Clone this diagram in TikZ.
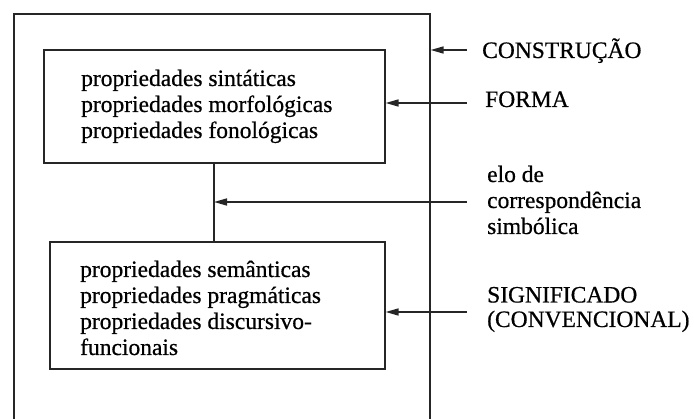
\documentclass[tikz,border=0pt]{standalone}
\usepackage{fontspec}
\setmainfont{Liberation Serif}[FakeBold=0.6]
\usetikzlibrary{arrows.meta}
\begin{document}
\begin{tikzpicture}[x=1pt,y=-1pt,
  frame/.style={draw=black!85, line width=1.6pt, inner sep=0pt, anchor=north west},
  lbl/.style={inner sep=0pt, anchor=base west, align=left,
    font=\fontsize{23.5}{26}\selectfont\addfontfeature{FakeBold=0.6}},
  arr/.style={draw=black!85, line width=1.6pt, -{Triangle[length=13pt,width=7pt]}},
  link/.style={draw=black!85, line width=1.6pt}]
\useasboundingbox (0,0) rectangle (694,419);
% outer construction frame (open at the bottom, runs off the page)
\node[frame, minimum width=416pt, minimum height=440pt] (outer) at (13,13) {};
\fill[white] (5,422) rectangle (440,460);
% form box and meaning box
\node[frame, minimum width=341pt, minimum height=113pt] (forma) at (43,49) {};
\node[frame, minimum width=335pt, minimum height=127pt] (signif) at (49,241) {};
% texts inside the boxes
\node[lbl] (formatxt) at (81,138) {propriedades sintáticas\\propriedades morfológicas\\propriedades fonológicas};
\node[lbl] (signiftxt) at (80,355) {propriedades semânticas\\propriedades pragmáticas\\propriedades discursivo-\\funcionais};
% labels on the right
\node[lbl] (constr) at (482,58) {CONSTRUÇÃO};
\node[lbl] (formalbl) at (485,107) {FORMA};
\node[lbl] (elo) at (487,234) {elo de\\correspondência\\simbólica};
\node[lbl, font=\fontsize{23.5}{24.5}\selectfont\addfontfeature{FakeBold=0.6}] (sig) at (487,327) {SIGNIFICADO\\(CONVENCIONAL)};
% symbolic link between form and meaning
\coordinate (linktop) at (214,162);
\draw[link] (linktop) -- (linktop |- signif.north);
% arrow start points
\coordinate (aC) at (467,50);
\coordinate (aF) at (467,103);
\coordinate (aE) at (467,202);
\coordinate (aS) at (467,312);
\draw[arr] (aC) -- (aC -| outer.east);
\draw[arr] (aF) -- (aF -| forma.east);
\draw[arr] (aE) -- (aE -| linktop);
\draw[arr] (aS) -- (aS -| signif.east);
\end{tikzpicture}
\end{document}
